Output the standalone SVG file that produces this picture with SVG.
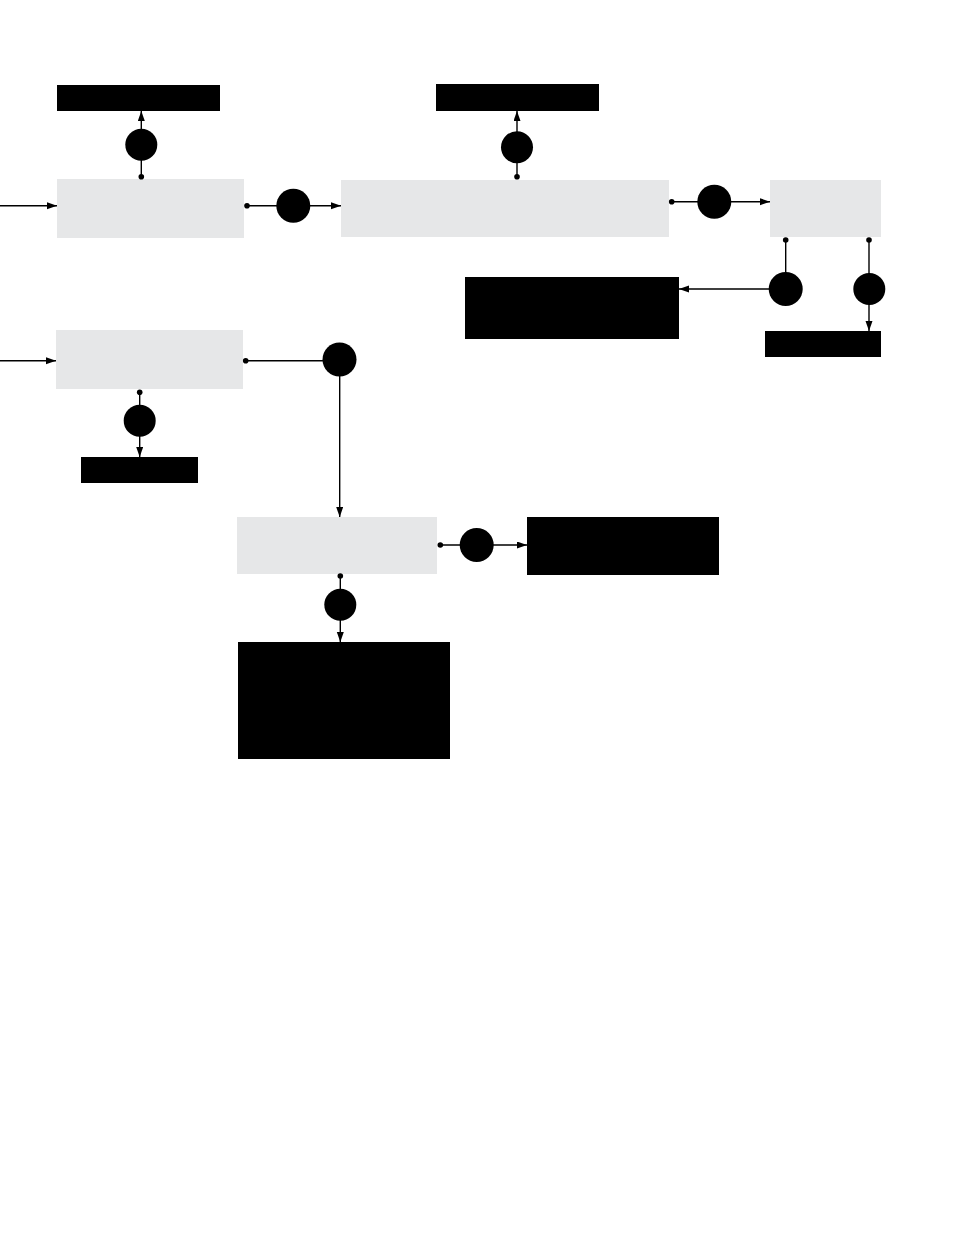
<svg xmlns="http://www.w3.org/2000/svg" width="954" height="1235" viewBox="0 0 954 1235">
<style>
.grey{fill:#e6e7e8}
.black{fill:#000}
.ln{stroke:#000;stroke-width:1.4;fill:none}
.arr{marker-end:url(#ah)}
.dot{fill:#000}
.badge{fill:#000}
</style>
<defs>
<marker id="ah" markerUnits="userSpaceOnUse" markerWidth="11" markerHeight="8" refX="10" refY="3.5" orient="auto">
<path d="M0,0 L10,3.5 L0,7 z" fill="#000"/>
</marker>
</defs>
<rect width="954" height="1235" fill="#fff"/>
<g id="n-box1"><rect class="grey" x="57" y="179" width="187" height="59"/></g>
<g id="n-box2"><rect class="grey" x="341" y="180" width="328" height="57"/></g>
<g id="n-box3"><rect class="grey" x="770" y="180" width="111" height="57"/></g>
<g id="n-box4"><rect class="grey" x="56" y="330" width="187" height="59"/></g>
<g id="n-box5"><rect class="grey" x="237" y="517" width="200" height="57"/></g>
<g id="n-out1"><rect class="black" x="57" y="85" width="163" height="26"/></g>
<g id="n-out2"><rect class="black" x="436" y="84" width="163" height="27"/></g>
<g id="n-out3"><rect class="black" x="465" y="277" width="214" height="62"/></g>
<g id="n-out4"><rect class="black" x="765" y="331" width="116" height="26"/></g>
<g id="n-out5"><rect class="black" x="81" y="457" width="117" height="26"/></g>
<g id="n-out6"><rect class="black" x="527" y="517" width="192" height="58"/></g>
<g id="n-out7"><rect class="black" x="238" y="642" width="212" height="117"/></g>
<g id="connectors">
<path class="ln arr" d="M0,205.7 H57"/>
<path class="ln arr" d="M141.3,176.7 V111"/>
<path class="ln arr" d="M247,205.7 H341"/>
<path class="ln arr" d="M517,176.7 V111"/>
<path class="ln arr" d="M671.7,201.7 H770"/>
<path class="ln arr" d="M785.7,240 V289 H679"/>
<path class="ln arr" d="M869,240 V331"/>
<path class="ln arr" d="M0,360.7 H56"/>
<path class="ln arr" d="M245.7,360.7 H339.7 V517"/>
<path class="ln arr" d="M139.7,392.3 V457"/>
<path class="ln arr" d="M440.3,545 H527"/>
<path class="ln arr" d="M340.3,576 V642"/>
<circle class="dot" cx="141.3" cy="176.7" r="2.8"/>
<circle class="dot" cx="247" cy="205.7" r="2.8"/>
<circle class="dot" cx="517" cy="176.7" r="2.8"/>
<circle class="dot" cx="671.7" cy="201.7" r="2.8"/>
<circle class="dot" cx="785.7" cy="240" r="2.8"/>
<circle class="dot" cx="869" cy="240" r="2.8"/>
<circle class="dot" cx="245.7" cy="360.7" r="2.8"/>
<circle class="dot" cx="139.7" cy="392.3" r="2.8"/>
<circle class="dot" cx="440.3" cy="545" r="2.8"/>
<circle class="dot" cx="340.3" cy="576" r="2.8"/>
</g>
<g id="badges">
<circle class="badge" cx="141.3" cy="144.7" r="16"/>
<circle class="badge" cx="293.3" cy="205.7" r="17"/>
<circle class="badge" cx="517" cy="147.3" r="16"/>
<circle class="badge" cx="714.3" cy="201.7" r="17"/>
<circle class="badge" cx="785.7" cy="289" r="17"/>
<circle class="badge" cx="869.3" cy="289" r="16"/>
<circle class="badge" cx="339.5" cy="359.5" r="17"/>
<circle class="badge" cx="139.7" cy="420.7" r="16"/>
<circle class="badge" cx="476.7" cy="545" r="17"/>
<circle class="badge" cx="340.3" cy="604.7" r="16"/>
</g>
</svg>
